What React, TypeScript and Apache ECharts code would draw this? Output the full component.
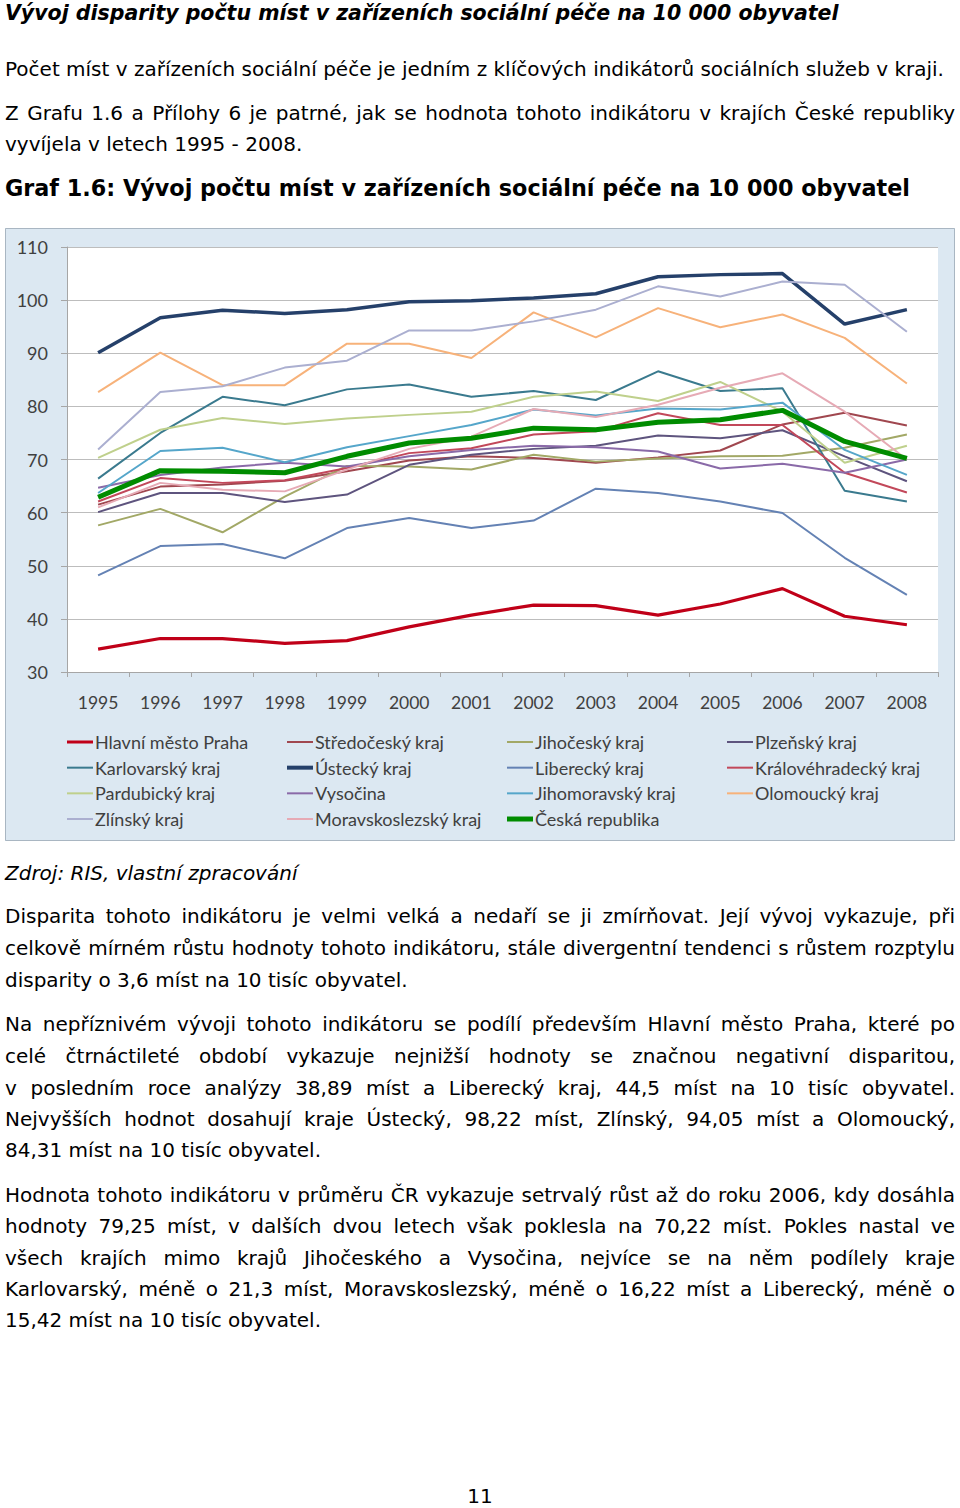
import React, { useEffect, useRef } from "react";
import * as echarts from "echarts";

// ---------------- data ----------------
const years = ["1995", "1996", "1997", "1998", "1999", "2000", "2001", "2002", "2003", "2004", "2005", "2006", "2007", "2008"];

const praha = [34.3, 36.3, 36.3, 35.4, 35.9, 38.5, 40.7, 42.6, 42.5, 40.7, 42.8, 45.7, 40.5, 38.89];
const stredocesky = [61.5, 64.9, 65.3, 66.0, 67.8, 69.8, 70.6, 70.3, 69.4, 70.4, 71.7, 76.6, 78.8, 76.4];
const jihocesky = [57.6, 60.7, 56.3, 63.0, 68.8, 68.7, 68.1, 70.9, 69.6, 70.2, 70.6, 70.7, 72.2, 74.7];
const plzensky = [60.1, 63.7, 63.7, 62.0, 63.4, 69.0, 70.9, 72.0, 72.6, 74.5, 74.0, 75.5, 70.6, 65.9];
const karlovarsky = [66.4, 75.0, 81.8, 80.2, 83.2, 84.1, 81.8, 82.9, 81.2, 86.6, 82.9, 83.4, 64.1, 62.1];
const ustecky = [90.1, 96.7, 98.1, 97.5, 98.2, 99.7, 99.9, 100.4, 101.2, 104.4, 104.8, 105.0, 95.5, 98.22];
const liberecky = [48.2, 53.7, 54.1, 51.4, 57.1, 59.0, 57.1, 58.5, 64.5, 63.7, 62.1, 59.92, 51.5, 44.5];
const kralovehradecky = [62.1, 66.5, 65.6, 66.1, 68.4, 71.2, 72.1, 74.7, 75.3, 78.7, 76.5, 76.5, 67.5, 63.8];
const pardubicky = [70.3, 75.6, 77.8, 76.7, 77.7, 78.4, 79.0, 81.8, 82.8, 81.0, 84.6, 79.0, 69.4, 72.6];
const vysocina = [64.7, 67.1, 68.5, 69.4, 68.7, 70.6, 71.8, 72.6, 72.3, 71.5, 68.3, 69.2, 67.5, 70.0];
const jihomoravsky = [63.7, 71.6, 72.2, 69.5, 72.3, 74.4, 76.5, 79.4, 78.3, 79.6, 79.4, 80.7, 71.8, 67.1];
const olomoucky = [82.7, 90.1, 84.0, 84.0, 91.8, 91.8, 89.1, 97.7, 93.0, 98.5, 94.9, 97.3, 92.9, 84.31];
const zlinsky = [71.9, 82.7, 83.8, 87.3, 88.6, 94.3, 94.3, 96.0, 98.2, 102.6, 100.7, 103.5, 102.9, 94.05];
const moravskoslezsky = [61.0, 65.6, 64.3, 64.0, 68.1, 72.0, 74.3, 79.5, 78.0, 80.3, 83.5, 86.22, 79.0, 70.0];
const ceskaRepublika = [62.9, 67.9, 67.8, 67.5, 70.6, 73.1, 74.0, 75.9, 75.6, 77.0, 77.5, 79.25, 73.4, 70.22];

const yTicks = { min: 30, max: 110, step: 10 };

// ---------------- series styling ----------------
type S = { name: string; data: number[]; color: string; width: number };
const seriesList: S[] = [
  { name: "Hlavní město Praha", data: praha, color: "#C00018", width: 3.2 },
  { name: "Středočeský kraj", data: stredocesky, color: "#A0474F", width: 2 },
  { name: "Jihočeský kraj", data: jihocesky, color: "#A2A866", width: 2 },
  { name: "Plzeňský kraj", data: plzensky, color: "#5E547E", width: 2 },
  { name: "Karlovarský kraj", data: karlovarsky, color: "#3A7A8E", width: 2 },
  { name: "Ústecký kraj", data: ustecky, color: "#25406A", width: 3.5 },
  { name: "Liberecký kraj", data: liberecky, color: "#6482B4", width: 2 },
  { name: "Královéhradecký kraj", data: kralovehradecky, color: "#C2485A", width: 2 },
  { name: "Pardubický kraj", data: pardubicky, color: "#BFD08C", width: 2 },
  { name: "Vysočina", data: vysocina, color: "#8A6AA8", width: 2 },
  { name: "Jihomoravský kraj", data: jihomoravsky, color: "#55A6CA", width: 2 },
  { name: "Olomoucký kraj", data: olomoucky, color: "#F7B27A", width: 2 },
  { name: "Zlínský kraj", data: zlinsky, color: "#ABAFD0", width: 2 },
  { name: "Moravskoslezský kraj", data: moravskoslezsky, color: "#E6AAB5", width: 2 },
  { name: "Česká republika", data: ceskaRepublika, color: "#008C00", width: 5 },
];

const legendColumns: string[][] = [
  ["Hlavní město Praha", "Karlovarský kraj", "Pardubický kraj", "Zlínský kraj"],
  ["Středočeský kraj", "Ústecký kraj", "Vysočina", "Moravskoslezský kraj"],
  ["Jihočeský kraj", "Liberecký kraj", "Jihomoravský kraj", "Česká republika"],
  ["Plzeňský kraj", "Královéhradecký kraj", "Olomoucký kraj"],
];
const legendLefts = [62, 282, 502, 722];

const iconFor = (w: number) => {
  const h = Math.max(2, Math.round(w));
  const y0 = 10 - h / 2;
  const y1 = 10 + h / 2;
  return `path://M0,0 M0,20 M0,${y0} L26,${y0} L26,${y1} L0,${y1} Z`;
};

// ---------------- page text ----------------
type L = { t: string; b: number; kind?: string; j?: boolean };
const pageLines: L[] = [
  { t: "Vývoj disparity počtu míst v zařízeních sociální péče na 10 000 obyvatel", b: 20, kind: "title" },
  { t: "Počet míst v zařízeních sociální péče je jedním z klíčových indikátorů sociálních služeb v kraji.", b: 76 },
  { t: "Z Grafu 1.6 a Přílohy 6 je patrné, jak se hodnota tohoto indikátoru v krajích České republiky", b: 120, j: true },
  { t: "vyvíjela v letech 1995 - 2008.", b: 151 },
  { t: "Graf 1.6: Vývoj počtu míst v zařízeních sociální péče na 10 000 obyvatel", b: 196, kind: "caption" },
  { t: "Zdroj: RIS, vlastní zpracování", b: 880, kind: "source" },
  { t: "Disparita tohoto indikátoru je velmi velká a nedaří se ji zmírňovat. Její vývoj vykazuje, při", b: 923, j: true },
  { t: "celkově mírném růstu hodnoty tohoto indikátoru, stále divergentní tendenci s růstem rozptylu", b: 955, j: true },
  { t: "disparity o 3,6 míst na 10 tisíc obyvatel.", b: 987 },
  { t: "Na nepříznivém vývoji tohoto indikátoru se podílí především Hlavní město Praha, které po", b: 1031, j: true },
  { t: "celé čtrnáctileté období vykazuje nejnižší hodnoty se značnou negativní disparitou,", b: 1063, j: true },
  { t: "v posledním roce analýzy 38,89 míst a Liberecký kraj, 44,5 míst na 10 tisíc obyvatel.", b: 1095, j: true },
  { t: "Nejvyšších hodnot dosahují kraje Ústecký, 98,22 míst, Zlínský, 94,05 míst a Olomoucký,", b: 1126, j: true },
  { t: "84,31 míst na 10 tisíc obyvatel.", b: 1157 },
  { t: "Hodnota tohoto indikátoru v průměru ČR vykazuje setrvalý růst až do roku 2006, kdy dosáhla", b: 1202, j: true },
  { t: "hodnoty 79,25 míst, v dalších dvou letech však poklesla na 70,22 míst. Pokles nastal ve", b: 1233, j: true },
  { t: "všech krajích mimo krajů Jihočeského a Vysočina, nejvíce se na něm podílely kraje", b: 1265, j: true },
  { t: "Karlovarský, méně o 21,3 míst, Moravskoslezský, méně o 16,22 míst a Liberecký, méně o", b: 1296, j: true },
  { t: "15,42 míst na 10 tisíc obyvatel.", b: 1327 },
  { t: "11", b: 1503, kind: "page" },
];

function TextLine({ l }: { l: L }) {
  let size = 20;
  let weight: any = 400;
  let style: any = "normal";
  if (l.kind === "title") { size = 20.5; weight = 700; style = "italic"; }
  if (l.kind === "caption") { size = 22.3; weight = 700; }
  if (l.kind === "source") { style = "italic"; }
  const lh = 24;
  const top = l.b - ((lh - size * 1.164) / 2 + size * 0.928);
  const base: React.CSSProperties = {
    position: "absolute",
    top,
    fontSize: size,
    lineHeight: lh + "px",
    fontWeight: weight,
    fontStyle: style,
    whiteSpace: "nowrap",
    color: "#000",
  };
  if (l.kind === "page") {
    return <div style={{ ...base, left: 0, width: 960, textAlign: "center" }}>{l.t}</div>;
  }
  if (l.j) {
    return (
      <div style={{ ...base, left: 5, width: 950, textAlign: "justify", textAlignLast: "justify" as any }}>{l.t}</div>
    );
  }
  return <div style={{ ...base, left: 5 }}>{l.t}</div>;
}

export default function App() {
  const ref = useRef<HTMLDivElement>(null);
  useEffect(() => {
    if (!ref.current) return;
    const chart = echarts.init(ref.current, null, { renderer: "svg" });
    const font = "Lato, 'Open Sans', sans-serif";
    chart.setOption({
      animation: false,
      backgroundColor: "#DCE8F2",
      textStyle: { fontFamily: font },
      grid: { left: 62, top: 19, width: 871, height: 425, show: true, backgroundColor: "#FFFFFF", borderWidth: 0 },
      xAxis: {
        type: "category",
        data: years,
        boundaryGap: true,
        axisLine: { show: true, lineStyle: { color: "#A6A6A6", width: 1 } },
        axisTick: { show: true, length: 5, lineStyle: { color: "#A6A6A6" } },
        axisLabel: { margin: 21, fontSize: 17.5, color: "#404040", interval: 0, fontFamily: font },
        splitLine: { show: false },
      },
      yAxis: {
        type: "value",
        min: yTicks.min,
        max: yTicks.max,
        interval: yTicks.step,
        axisLine: { show: true, lineStyle: { color: "#A6A6A6", width: 1 } },
        axisTick: { show: true, length: 6, lineStyle: { color: "#A6A6A6" } },
        axisLabel: { margin: 19, fontSize: 18, color: "#404040", fontFamily: font },
        splitLine: { show: true, lineStyle: { color: "#BDBDBD", width: 1 } },
      },
      legend: legendColumns.map((col, i) => ({
        orient: "vertical",
        left: legendLefts[i],
        top: 504,
        padding: 0,
        itemWidth: 26,
        itemHeight: 20,
        itemGap: 5.67,
        selectedMode: false,
        itemStyle: { borderWidth: 0 },
        textStyle: { fontSize: 18, color: "#404040", fontFamily: font, padding: [0, 0, 0, -3] },
        data: col.map((n) => {
          const s = seriesList.find((x) => x.name === n)!;
          return { name: n, icon: iconFor(s.width) };
        }),
      })),
      series: seriesList.map((s) => ({
        type: "line",
        name: s.name,
        data: s.data,
        symbol: "none",
        showSymbol: false,
        color: s.color,
        itemStyle: { color: s.color },
        lineStyle: { color: s.color, width: s.width },
        emphasis: { disabled: true },
      })),
      graphic: [
        {
          type: "rect",
          silent: true,
          shape: { x: 0.5, y: 0.5, width: 949, height: 612 },
          style: { fill: "none", stroke: "#A9B6C2", lineWidth: 1 },
        },
      ],
    });
    return () => chart.dispose();
  }, []);

  return (
    <div
      style={{
        position: "absolute",
        left: 0,
        top: 0,
        width: 960,
        height: 1508,
        background: "#FFFFFF",
        fontFamily: "'DejaVu Sans', Verdana, sans-serif",
        overflow: "hidden",
      }}
    >
      {pageLines.map((l, i) => (
        <TextLine key={i} l={l} />
      ))}
      <div ref={ref} style={{ position: "absolute", left: 5, top: 228, width: 950, height: 613 }} />
    </div>
  );
}
